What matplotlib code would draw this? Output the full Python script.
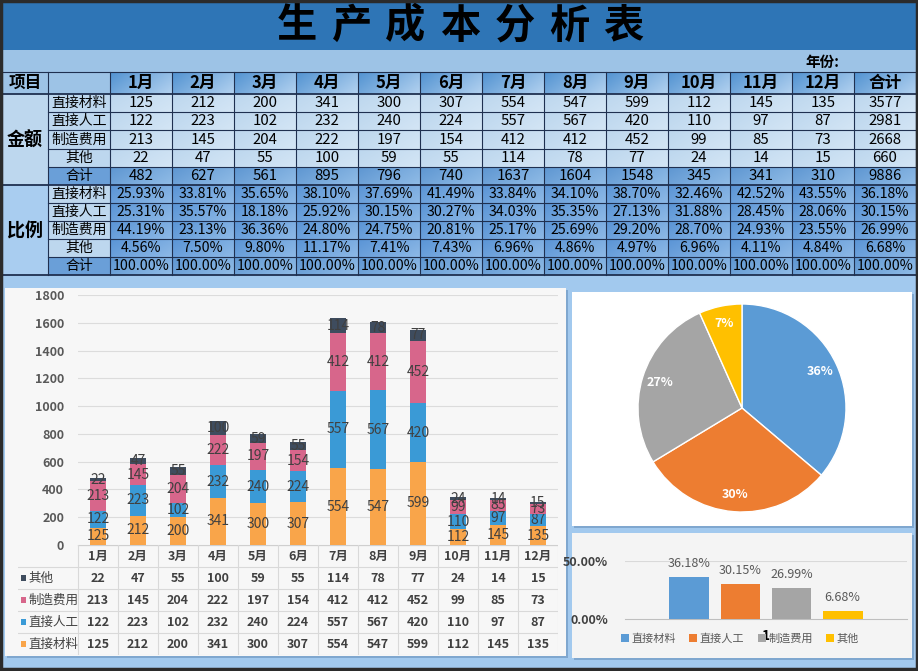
import numpy as np
import matplotlib
matplotlib.use('Agg')
import matplotlib.pyplot as plt
from matplotlib.patches import Rectangle
from matplotlib.colors import to_rgb

plt.rcParams['font.family'] = ['Noto Sans CJK SC', 'DejaVu Sans']

# data read from the sheet
months = ['1月', '2月', '3月', '4月', '5月', '6月', '7月', '8月', '9月', '10月', '11月', '12月']
items = ['直接材料', '直接人工', '制造费用', '其他']
material = [125, 212, 200, 341, 300, 307, 554, 547, 599, 112, 145, 135]
labor = [122, 223, 102, 232, 240, 224, 557, 567, 420, 110, 97, 87]
overhead = [213, 145, 204, 222, 197, 154, 412, 412, 452, 99, 85, 73]
other = [22, 47, 55, 100, 59, 55, 114, 78, 77, 24, 14, 15]
year_ratio = [36.18, 30.15, 26.99, 6.68]
year_label = ['1']

series = [material, labor, overhead, other]
bar_colors = ['#f9a54a', '#3a9ad6', '#d7668b', '#3e4c5e']
pie_colors = ['#5b9bd5', '#ed7d31', '#a5a5a5', '#ffc000']

W, H = 918, 671
fig = plt.figure(figsize=(W / 100, H / 100), dpi=100)
bg = fig.add_axes([0, 0, 1, 1])
bg.set_xlim(0, W)
bg.set_ylim(H, 0)
bg.axis('off')


def px_axes(x0, y0, x1, y1):
    return fig.add_axes([x0 / W, 1 - y1 / H, (x1 - x0) / W, (y1 - y0) / H])


def rect(x0, y0, x1, y1, color, z=1):
    bg.add_patch(Rectangle((x0, y0), x1 - x0, y1 - y0, facecolor=color, edgecolor='none', zorder=z))


def grad(x0, y0, x1, y1, c0, c1):
    c0, c1 = np.array(to_rgb(c0)), np.array(to_rgb(c1))
    u = np.linspace(0, 1, 32)[None, :]
    v = np.linspace(0, 1, 8)[:, None]
    t = (0.7 * u + 0.3 * v)[:, :, None]
    img = c0 * (1 - t) + c1 * t
    bg.imshow(img, extent=(x0, x1, y1, y0), aspect='auto', interpolation='bilinear', zorder=1)


def txt(x, y, s, size=10, weight='normal', color='black', ha='center'):
    bg.text(x, y, s, fontsize=size, fontweight=weight, color=color, ha=ha, va='center', zorder=5)


# ---- top sheet area ----
rect(0, 0, W, 50, '#2e75b6')
rect(0, 50, W, 72, '#9dc3e6')
for i, ch in enumerate('生产成本分析表'):
    txt(460 + (i - 3) * 54.5, 26, ch, size=29, weight='heavy')
txt(822, 62, '年份:', size=10.5, weight='bold')

col_x = [2, 48] + [110 + 62 * i for i in range(14)]
row_y = [72, 94, 112, 130, 149, 167, 185, 203, 221, 239, 257, 275]

# header row
rect(2, 72, 110, 94, '#9dc3e6')
for j in range(13):
    grad(col_x[j + 2], 72, col_x[j + 3], 94, '#5494d2', '#b0d0ef')
txt(25, 83, '项目', size=12, weight='bold')
for j, m in enumerate(months + ['合计']):
    txt((col_x[j + 2] + col_x[j + 3]) / 2, 83, m, size=12, weight='bold')

totals = np.sum(series, axis=0)
rect(2, 94, 48, 185, '#bdd7ee')
rect(2, 185, 48, 275, '#a9cdf0')
txt(25, 140, '金额', size=13, weight='bold')
txt(25, 230, '比例', size=13, weight='bold')

labels = items + ['合计']
for r in range(10):
    y0, y1 = row_y[r + 1], row_y[r + 2]
    yc = (y0 + y1) / 2
    k = r % 5
    is_sum = k == 4
    rect(48, y0, 110, y1, '#6a9fd8' if is_sum else '#bdd7ee')
    txt(79, yc, labels[k], size=10)
    for j in range(13):
        x0, x1 = col_x[j + 2], col_x[j + 3]
        if r < 5:
            vals = list(series[k]) + [sum(series[k])] if not is_sum else list(totals) + [totals.sum()]
            if is_sum:
                grad(x0, y0, x1, y1, '#5f97d2', '#8fbbe6')
            else:
                grad(x0, y0, x1, y1, '#bdd7ee', '#d3e5f5')
            s = str(int(vals[j]))
            size = 10.8
        else:
            if is_sum:
                grad(x0, y0, x1, y1, '#5f97d2', '#8fbbe6')
                s = '100.00%'
            else:
                num = list(series[k]) + [sum(series[k])]
                den = list(totals) + [totals.sum()]
                grad(x0, y0, x1, y1, '#5b95d6', '#8cb8e6')
                s = '%.2f%%' % (100 * num[j] / den[j])
            size = 10.2
        txt((x0 + x1) / 2, yc, s, size=size)

line_c = '#1f3050'
for y in row_y:
    x_start = 2 if y in (72, 94, 185, 275) else 48
    lw = 1.3 if y in (94, 185, 275) else 0.8
    bg.plot([x_start, 916], [y, y], color=line_c, lw=lw, zorder=6)
for x in col_x + [916]:
    bg.plot([x, x], [72, 275], color=line_c, lw=0.8, zorder=6)

# ---- lower dashboard area ----
rect(0, 275, W, H, '#a2c9ee', z=0)
rect(7, 290, 568, 658, '#7fa7cf', z=0)
rect(5, 288, 566, 656, '#f7f7f7')
rect(574, 294, 914, 528, '#7fa7cf', z=0)
rect(572, 292, 912, 526, '#ffffff')
rect(574, 535, 914, 660, '#7fa7cf', z=0)
rect(572, 533, 912, 658, '#f4f4f4')
bg.add_patch(Rectangle((1, 1), W - 2, H - 3, fill=False, edgecolor='#2b2b2b', lw=2.5, zorder=8))

# stacked monthly bars
ax = px_axes(78, 295, 558, 545)
ax.set_facecolor('none')
x = np.arange(len(months))
bottom = np.zeros(len(months))
for vals, name, c in zip(series, items, bar_colors):
    bars = ax.bar(x, vals, 0.42, bottom=bottom, color=c, label=name, zorder=3)
    ax.bar_label(bars, label_type='center', color='#404040', fontsize=10)
    bottom += np.array(vals)
ax.set_xlim(-0.5, 11.5)
ax.set_ylim(0, 1800)
ax.set_yticks(range(0, 1801, 200))
ax.set_xticks([])
ax.grid(axis='y', color='#dcdcdc', lw=0.8, zorder=0)
for sp in ax.spines.values():
    sp.set_visible(False)
ax.tick_params(axis='y', length=0, pad=10, labelsize=9, labelcolor='#595959')
for lb in ax.get_yticklabels():
    lb.set_fontweight('bold')

# data table under the bars
tb = px_axes(18, 545, 558, 655)
tb.set_xlim(-2, 11.5)
tb.set_ylim(5, 0)
tb.axis('off')
grid_c = '#d9d9d9'
tb.plot([-0.5, 11.5], [0, 0], color='#cfcfcf', lw=0.9)
for r in range(1, 6):
    tb.plot([-2, 11.5], [r, r], color=grid_c, lw=0.8)
for c in np.arange(-0.5, 12, 1):
    tb.plot([c, c], [0, 5], color=grid_c, lw=0.8)
for j, m in enumerate(months):
    tb.text(j, 0.5, m, ha='center', va='center', fontsize=9, fontweight='bold', color='#404040')
for r, i in enumerate([3, 2, 1, 0]):
    yc = r + 1.5
    tb.add_patch(Rectangle((-1.93, yc - 0.15), 0.14, 0.3, color=bar_colors[i], lw=0))
    tb.text(-1.74, yc, items[i], ha='left', va='center', fontsize=9, color='#404040')
    for j, v in enumerate(series[i]):
        tb.text(j, yc, str(v), ha='center', va='center', fontsize=9, fontweight='bold', color='#404040')

# pie of yearly totals
pa = px_axes(638, 304, 846, 512)
year_totals = [sum(s) for s in series]
wedges, _, autos = pa.pie(year_totals, colors=pie_colors, startangle=90, counterclock=False,
                          autopct='%.0f%%', pctdistance=0.83,
                          wedgeprops=dict(edgecolor='white', linewidth=1))
for a in autos:
    a.set_color('white')
    a.set_fontweight('bold')
    a.set_fontsize(9)
pa.set_xlim(-1, 1)
pa.set_ylim(-1, 1)

# yearly ratio bars
ra = px_axes(625, 561, 907, 619)
ra.set_facecolor('none')
offs = np.array([-1.5, -0.5, 0.5, 1.5])
handles = []
for k in range(4):
    b = ra.bar(offs[k], year_ratio[k] / 100, 0.78, color=pie_colors[k], label=items[k], zorder=3)
    ra.bar_label(b, labels=['%.2f%%' % year_ratio[k]], padding=5, fontsize=9, color='#595959')
    handles.append(b)
ra.set_xlim(-2.76, 2.76)
ra.set_ylim(0, 0.5)
ra.set_yticks([0, 0.5])
ra.set_yticklabels(['0.00%', '50.00%'])
ra.set_xticks([0])
ra.set_xticklabels(year_label)
ra.axhline(0.5, color='#d9d9d9', lw=0.8, zorder=0)
for sp in ['top', 'right', 'left']:
    ra.spines[sp].set_visible(False)
ra.spines['bottom'].set_color('#bfbfbf')
ra.tick_params(axis='y', length=0, pad=12, labelsize=9, labelcolor='#404040')
ra.tick_params(axis='x', length=0, pad=7, labelsize=10)
for lb in ra.get_yticklabels() + ra.get_xticklabels():
    lb.set_fontweight('bold')
fig.legend(handles=handles, labels=items, loc='center', bbox_to_anchor=(740 / W, 1 - 639 / H),
           ncol=4, frameon=False, fontsize=8, handlelength=0.7, handleheight=0.7,
           handletextpad=0.25, columnspacing=1.2, labelcolor='#595959')

bg.set_xlim(0, W)
bg.set_ylim(H, 0)
fig.savefig('out.png', dpi=100)
